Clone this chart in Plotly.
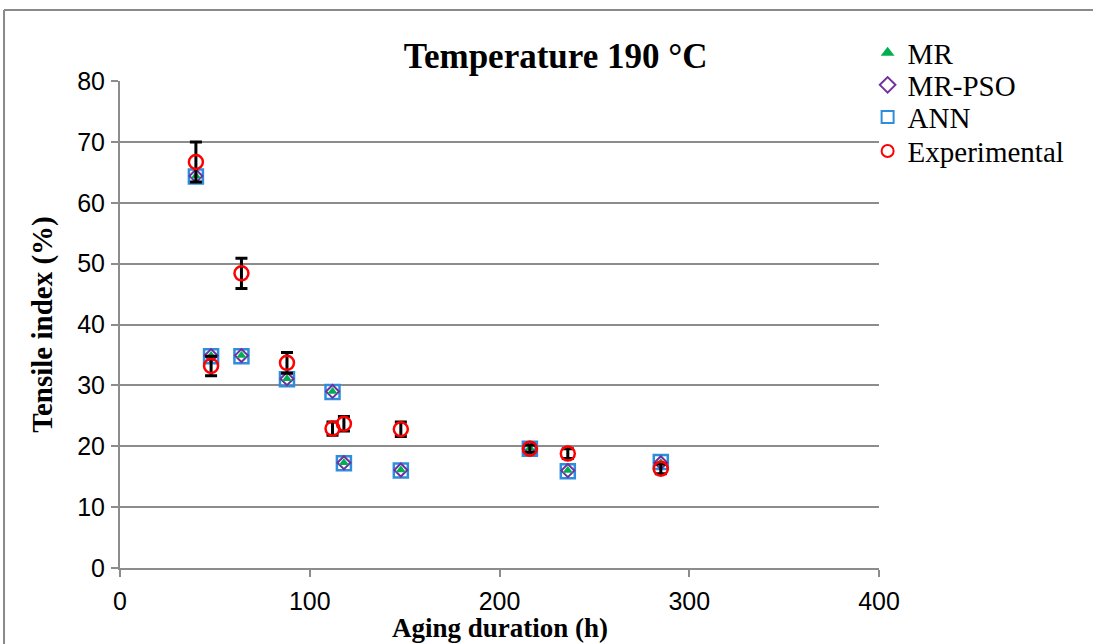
import plotly.graph_objects as go

# Aging duration (h) for each sample
hours = [40, 48, 64, 88, 112, 118, 148, 216, 236, 285]

# Measured tensile index (%) and its error
experimental = [66.7, 33.2, 48.4, 33.7, 22.9, 23.7, 22.8, 19.6, 18.8, 16.3]
exp_error = [3.3, 1.6, 2.5, 1.7, 1.1, 1.2, 1.2, 0.6, 0.8, 0.8]

# Model predictions (%)
mr = [64.4, 34.9, 34.9, 31.1, 29.0, 17.3, 16.1, 19.7, 16.0, 17.3]
mr_pso = [64.4, 34.9, 34.9, 31.1, 29.0, 17.3, 16.1, 19.7, 16.0, 17.3]
ann = [64.3, 34.8, 34.8, 31.0, 28.9, 17.2, 16.0, 19.6, 15.9, 17.4]

x_ticks = [0, 100, 200, 300, 400]
y_ticks = [0, 10, 20, 30, 40, 50, 60, 70, 80]

serif = "Liberation Serif, Times New Roman, serif"
sans = "Liberation Sans, Arial, sans-serif"
grid = "#8c8c8c"

fig = go.Figure()

fig.add_trace(go.Scatter(
    x=hours, y=ann, mode="markers", name="ANN", legend="legend3",
    marker=dict(symbol="square-open", size=14, color="#2e8ede",
                line=dict(width=2.5, color="#2e8ede")),
))
fig.add_trace(go.Scatter(
    x=hours, y=mr_pso, mode="markers", name="MR-PSO", legend="legend2",
    marker=dict(symbol="diamond-open", size=10, color="#7030a0",
                line=dict(width=2, color="#7030a0")),
))
fig.add_trace(go.Scatter(
    x=hours, y=mr, mode="markers", name="MR", legend="legend",
    marker=dict(symbol="triangle-up", size=9, color="#00b050"),
))
fig.add_trace(go.Scatter(
    x=hours, y=experimental, mode="markers", name="Experimental",
    legend="legend4",
    error_y=dict(type="data", array=exp_error, visible=True,
                 color="black", thickness=3, width=6),
    marker=dict(symbol="circle-open", size=14, color="#ff0000",
                line=dict(width=2.5, color="#ff0000")),
))

# Outer frame of the chart area
frame = dict(color="#8a8a8a", width=2)
fig.add_shape(type="line", xref="paper", yref="paper",
              x0=-0.1528, x1=1.35, y0=1.1458, y1=1.1458, line=frame)
fig.add_shape(type="line", xref="paper", yref="paper",
              x0=-0.1528, x1=-0.1528, y0=1.1458, y1=-0.3, line=frame)

# X-axis title, resting on the bottom edge of the figure
fig.add_annotation(text="<b>Aging duration (h)</b>", xref="paper", yref="paper",
                   x=0.5, y=-0.1555, xanchor="center", yanchor="bottom",
                   showarrow=False, borderpad=0,
                   font=dict(family=serif, size=27, color="black"))


def legend_box(y):
    return dict(x=0.985, y=y, xanchor="left", yanchor="middle",
                font=dict(family=serif, size=29, color="black"),
                itemsizing="constant", bgcolor="rgba(0,0,0,0)",
                borderwidth=0)


fig.update_layout(
    width=1093, height=644,
    margin=dict(l=120, r=214, t=81, b=76, autoexpand=False),
    paper_bgcolor="white", plot_bgcolor="white",
    title=dict(text="<b>Temperature 190 °C</b>", xref="paper", x=0.574,
               xanchor="center", yref="container", y=0.914,
               yanchor="middle",
               font=dict(family=serif, size=35, color="black")),
    showlegend=True,
    legend=legend_box(1.0575),
    legend2=legend_box(0.9918),
    legend3=legend_box(0.926),
    legend4=legend_box(0.856),
    xaxis=dict(
        range=[0, 400], tickvals=x_ticks, showgrid=False, zeroline=False,
        showline=True, linecolor=grid, linewidth=2, automargin=False,
        ticks="outside", ticklen=7, tickcolor=grid, tickwidth=2,
        ticklabelstandoff=3,
        tickfont=dict(family=sans, size=25, color="black"),
    ),
    yaxis=dict(
        range=[0, 80], tickvals=y_ticks, showgrid=True, gridcolor=grid,
        gridwidth=2, zeroline=False, automargin=False,
        showline=True, linecolor=grid, linewidth=2,
        ticks="outside", ticklen=7, tickcolor=grid, tickwidth=2,
        ticklabelstandoff=1,
        tickfont=dict(family=sans, size=25, color="black"),
        title=dict(text="<b>Tensile index (%)</b>", standoff=16,
                   font=dict(family=serif, size=29, color="black")),
    ),
)

fig.write_html("out.html")
